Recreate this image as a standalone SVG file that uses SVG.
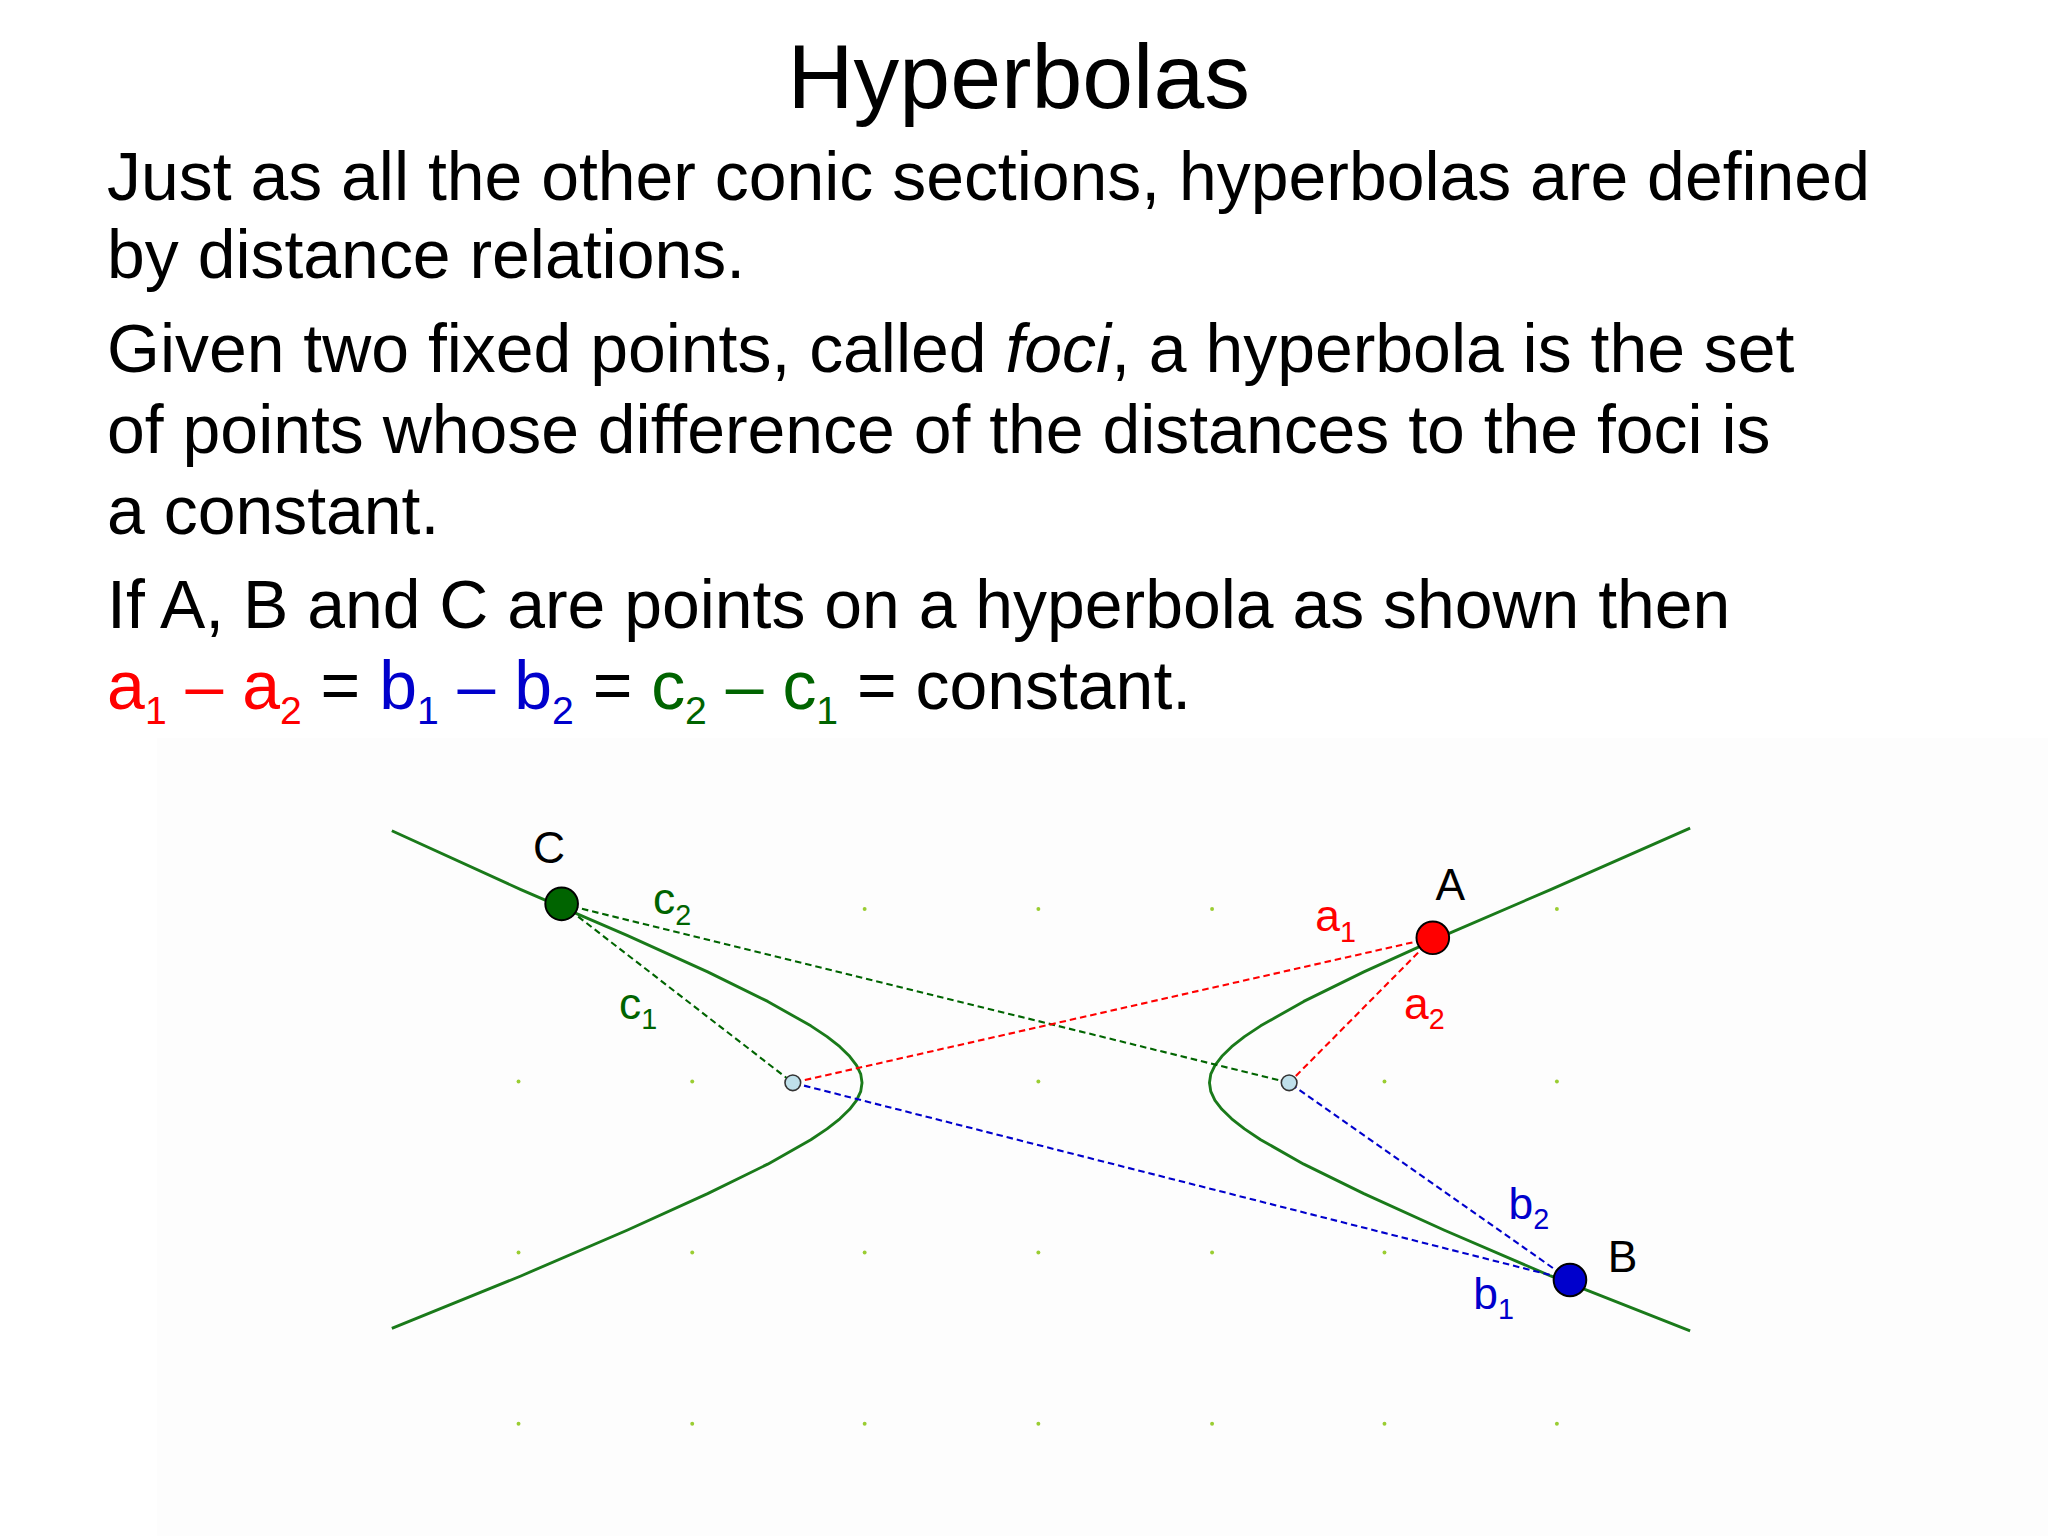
<svg xmlns="http://www.w3.org/2000/svg" width="2048" height="1536" viewBox="0 0 2048 1536">
<style>
text{font-family:"Liberation Sans",Arial,sans-serif}
.body{font-size:52px;fill:#000}
.lbl{font-size:34px}
.sub{font-size:22px}
.dot{fill:#9acd32}
.dash{fill:none;stroke-width:1.6;stroke-dasharray:5,3}
.hyp{fill:none;stroke:#1a7a1a;stroke-width:2.2;stroke-linejoin:round}
</style>
<rect width="2048" height="1536" fill="#fff"/>
<g transform="scale(1.30612)">
<rect x="120" y="565" width="1448" height="611" fill="#fdfdfd"/>
<g id="title"><text x="780" y="83" text-anchor="middle" font-size="70">Hyperbolas</text></g>
<g id="body">
<text class="body" x="82" y="153">Just as all the other conic sections, hyperbolas are defined</text>
<text class="body" x="82" y="213">by distance relations.</text>
<text class="body" x="82" y="285">Given two fixed points, called <tspan font-style="italic">foci</tspan>, a hyperbola is the set</text>
<text class="body" x="82" y="347">of points whose difference of the distances to the foci is</text>
<text class="body" x="82" y="409">a constant.</text>
<text class="body" x="82" y="481">If A, B and C are points on a hyperbola as shown then</text>
<text class="body" x="82" y="543"><tspan fill="#ff0000">a<tspan font-size="30" dy="11">1</tspan><tspan dy="-11"> – a</tspan><tspan font-size="30" dy="11">2</tspan></tspan><tspan dy="-11"> = </tspan><tspan fill="#0000cc">b<tspan font-size="30" dy="11">1</tspan><tspan dy="-11"> – b</tspan><tspan font-size="30" dy="11">2</tspan></tspan><tspan dy="-11"> = </tspan><tspan fill="#006400">c<tspan font-size="30" dy="11">2</tspan><tspan dy="-11"> – c</tspan><tspan font-size="30" dy="11">1</tspan></tspan><tspan dy="-11"> = constant.</tspan></text>
</g>
<g id="grid">
<circle class="dot" cx="662" cy="696" r="1.5"/><circle class="dot" cx="795" cy="696" r="1.5"/><circle class="dot" cx="928" cy="696" r="1.5"/><circle class="dot" cx="1192" cy="696" r="1.5"/>
<circle class="dot" cx="397" cy="828" r="1.5"/><circle class="dot" cx="530" cy="828" r="1.5"/><circle class="dot" cx="795" cy="828" r="1.5"/><circle class="dot" cx="1060" cy="828" r="1.5"/><circle class="dot" cx="1192" cy="828" r="1.5"/>
<circle class="dot" cx="397" cy="959" r="1.5"/><circle class="dot" cx="530" cy="959" r="1.5"/><circle class="dot" cx="662" cy="959" r="1.5"/><circle class="dot" cx="795" cy="959" r="1.5"/><circle class="dot" cx="928" cy="959" r="1.5"/><circle class="dot" cx="1060" cy="959" r="1.5"/>
<circle class="dot" cx="397" cy="1090" r="1.5"/><circle class="dot" cx="530" cy="1090" r="1.5"/><circle class="dot" cx="662" cy="1090" r="1.5"/><circle class="dot" cx="795" cy="1090" r="1.5"/><circle class="dot" cx="928" cy="1090" r="1.5"/><circle class="dot" cx="1060" cy="1090" r="1.5"/><circle class="dot" cx="1192" cy="1090" r="1.5"/>
</g>
<g id="hyperbola">
<polyline class="hyp" points="300,636 398.8,681.1 480.1,716.1 541.8,744.1 587.8,766.7 620.8,785.4 633.2,793.7 643,801.4 650.5,808.7 655.8,815.6 659,822.4 660,829 659,835.6 655.8,842.4 650.5,849.3 643,856.6 633.2,864.3 620.8,872.6 587.8,891.3 541.8,913.9 480.1,941.9 398.8,976.9 300,1017"/>
<polyline class="hyp" points="1294,634 1187.2,681.1 1105.9,716.1 1044.2,744.1 998.2,766.7 965.2,785.4 952.8,793.7 943,801.4 935.5,808.7 930.2,815.6 927,822.4 926,829 927,835.6 930.2,842.4 935.5,849.3 943,856.6 952.8,864.3 965.2,872.6 998.2,891.3 1044.2,913.9 1105.9,941.9 1187.2,976.9 1294,1019"/>
</g>
<g id="connectors">
<line class="dash" stroke="#006400" x1="430" y1="692" x2="607" y2="829"/>
<line class="dash" stroke="#006400" x1="430" y1="692" x2="987" y2="829"/>
<line class="dash" stroke="#ff0000" x1="1097" y1="718" x2="607" y2="829"/>
<line class="dash" stroke="#ff0000" x1="1097" y1="718" x2="987" y2="829"/>
<line class="dash" stroke="#0000cc" x1="1202" y1="980" x2="607" y2="829"/>
<line class="dash" stroke="#0000cc" x1="1202" y1="980" x2="987" y2="829"/>
</g>
<g id="F1"><circle cx="607" cy="829" r="6" fill="#bfe0ea" stroke="#333" stroke-width="1.2"/></g>
<g id="F2"><circle cx="987" cy="829" r="6" fill="#bfe0ea" stroke="#333" stroke-width="1.2"/></g>
<g id="C"><circle cx="430" cy="692" r="12.5" fill="#006400" stroke="#000" stroke-width="1.5"/><text class="lbl" x="408" y="661">C</text></g>
<g id="A"><circle cx="1097" cy="718" r="12.5" fill="#ff0000" stroke="#000" stroke-width="1.5"/><text class="lbl" x="1099" y="689">A</text></g>
<g id="B"><circle cx="1202" cy="980" r="12.5" fill="#0000cc" stroke="#000" stroke-width="1.5"/><text class="lbl" x="1231" y="974">B</text></g>
<g id="labels">
<text class="lbl" x="500" y="700" fill="#006400">c<tspan class="sub" dy="8">2</tspan></text>
<text class="lbl" x="474" y="780" fill="#006400">c<tspan class="sub" dy="8">1</tspan></text>
<text class="lbl" x="1007" y="713" fill="#ff0000">a<tspan class="sub" dy="8">1</tspan></text>
<text class="lbl" x="1075" y="780" fill="#ff0000">a<tspan class="sub" dy="8">2</tspan></text>
<text class="lbl" x="1155" y="933" fill="#0000cc">b<tspan class="sub" dy="8">2</tspan></text>
<text class="lbl" x="1128" y="1002" fill="#0000cc">b<tspan class="sub" dy="8">1</tspan></text>
</g>
</g>
</svg>
